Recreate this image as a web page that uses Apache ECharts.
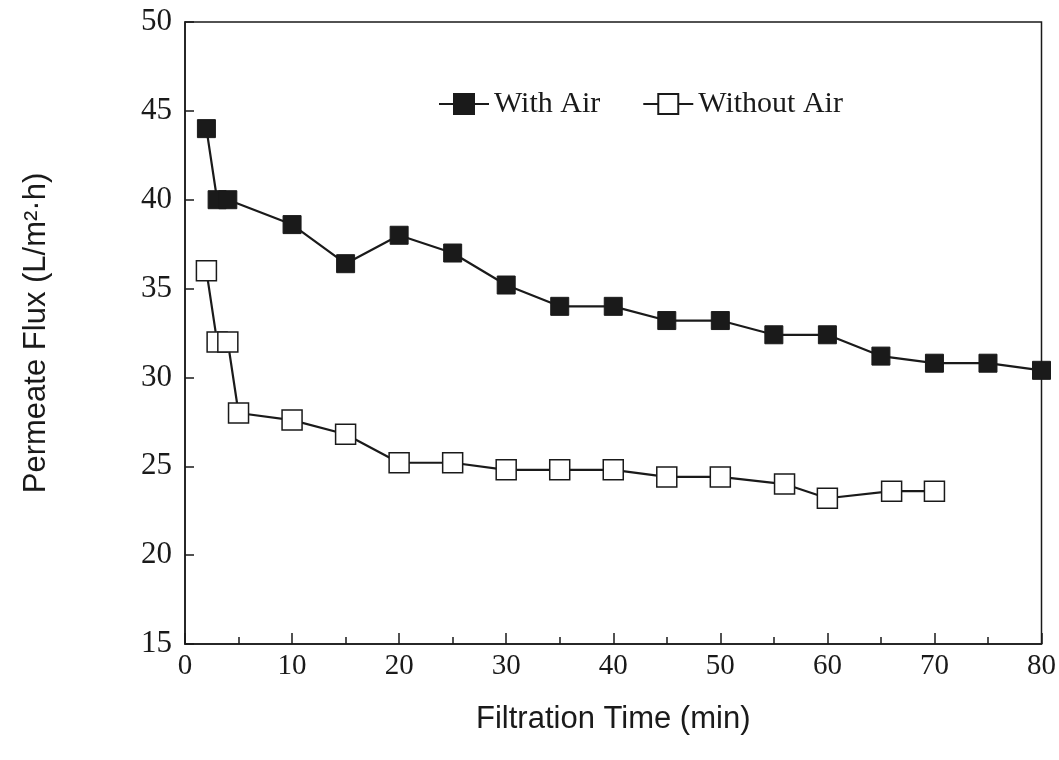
<!DOCTYPE html>
<html>
<head>
<meta charset="utf-8">
<script src="https://cdn.jsdelivr.net/npm/echarts@6/dist/echarts.min.js"></script>
<style>html,body{margin:0;padding:0;background:#fff;}#c{width:1059px;height:760px;}</style>
</head>
<body>
<div id="c"></div>
<script>
var timeAir = [2, 3, 4, 10, 15, 20, 25, 30, 35, 40, 45, 50, 55, 60, 65, 70, 75, 80];
var fluxAir = [44, 40, 40, 38.6, 36.4, 38, 37, 35.2, 34, 34, 33.2, 33.2, 32.4, 32.4, 31.2, 30.8, 30.8, 30.4];
var timeNoAir = [2, 3, 4, 5, 10, 15, 20, 25, 30, 35, 40, 45, 50, 56, 60, 66, 70];
var fluxNoAir = [36, 32, 32, 28, 27.6, 26.8, 25.2, 25.2, 24.8, 24.8, 24.8, 24.4, 24.4, 24.0, 23.2, 23.6, 23.6];
var seriesNames = ['With Air', 'Without Air'];
var xTitle = 'Filtration Time (min)';
var yTitle = 'Permeate Flux (L/m\u00B2\u00B7h)';

function pairs(xs, ys) { return xs.map(function (x, i) { return [x, ys[i]]; }); }

var ink = '#1a1a1a';
var chart = echarts.init(document.getElementById('c'), null, {renderer: 'canvas'});
chart.setOption({
  backgroundColor: '#ffffff',
  animation: false,
  grid: {left: 185, right: 15, top: 22, bottom: 116, show: true, borderColor: ink, borderWidth: 1.5, backgroundColor: 'transparent'},
  legend: {
    left: 433, top: 84,
    itemWidth: 50, itemHeight: 25, itemGap: 42,
    textStyle: {fontFamily: 'Liberation Serif', fontSize: 30, color: ink},
    data: seriesNames
  },
  xAxis: {
    type: 'value', min: 0, max: 80, interval: 10,
    name: xTitle, nameLocation: 'middle', nameGap: 60,
    nameTextStyle: {fontFamily: 'Liberation Sans', fontSize: 31, color: ink},
    axisLine: {show: true, lineStyle: {color: ink, width: 1.5}},
    axisTick: {show: true, inside: true, length: 11, lineStyle: {color: ink, width: 1.5}},
    minorTick: {show: true, splitNumber: 2, length: 7, lineStyle: {color: ink, width: 1.5}},
    axisLabel: {fontFamily: 'Liberation Serif', fontSize: 29, color: ink, margin: 8},
    splitLine: {show: false}
  },
  yAxis: {
    type: 'value', min: 15, max: 50, interval: 5,
    name: yTitle, nameLocation: 'middle', nameGap: 133, nameRotate: 90,
    nameTextStyle: {fontFamily: 'Liberation Sans', fontSize: 31, color: ink},
    axisLine: {show: true, lineStyle: {color: ink, width: 1.5}},
    axisTick: {show: true, inside: true, length: 9, lineStyle: {color: ink, width: 1.5}},
    axisLabel: {fontFamily: 'Liberation Serif', fontSize: 31, color: ink, margin: 13},
    splitLine: {show: false}
  },
  series: [
    {
      name: seriesNames[0], type: 'line', data: pairs(timeAir, fluxAir),
      symbol: 'rect', symbolSize: 18,
      lineStyle: {color: ink, width: 2.2},
      itemStyle: {color: ink, borderColor: ink, borderWidth: 1}
    },
    {
      name: seriesNames[1], type: 'line', data: pairs(timeNoAir, fluxNoAir),
      symbol: 'rect', symbolSize: 20,
      lineStyle: {color: ink, width: 2.2},
      itemStyle: {color: '#ffffff', borderColor: ink, borderWidth: 1.5}
    }
  ]
});
</script>
</body>
</html>
